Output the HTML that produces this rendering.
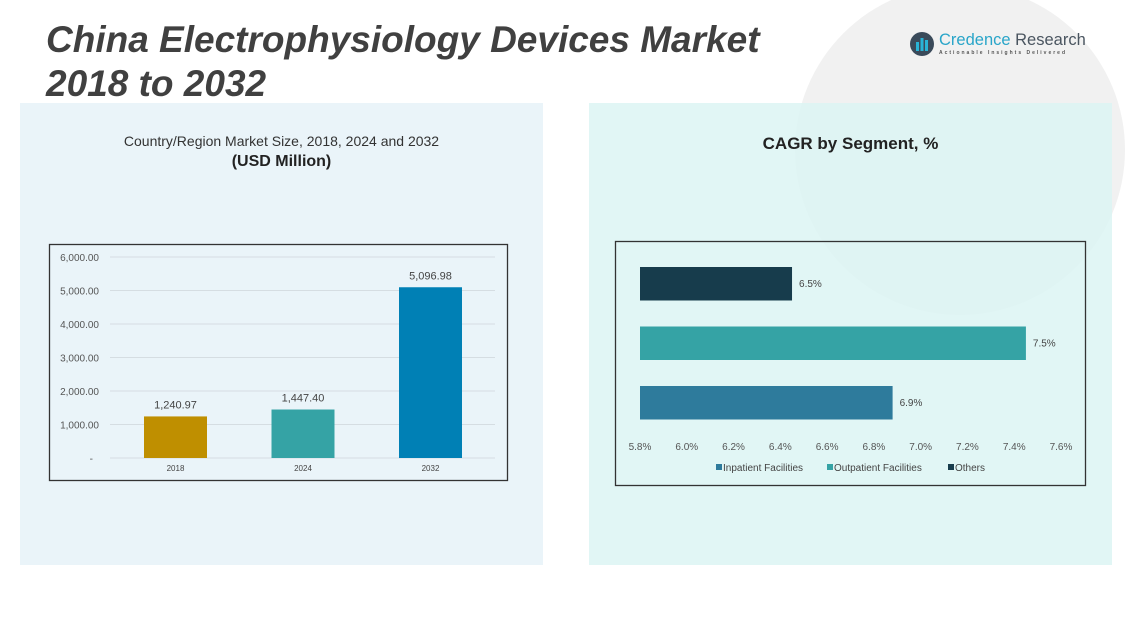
<!DOCTYPE html>
<html><head><meta charset="utf-8"><style>
body{margin:0;width:1128px;height:622px;overflow:hidden;background:#fff;font-family:"Liberation Sans",sans-serif;position:relative}
.abs{position:absolute}
</style></head><body>
<div class="abs" style="left:795px;top:-15px;width:330px;height:330px;border-radius:50%;background:#f1f1f1"></div>
<div class="abs" style="left:20px;top:103px;width:523px;height:462px;background:#eaf4f9"></div>
<div class="abs" style="left:589px;top:103px;width:523px;height:462px;background:rgba(220,244,243,0.85)"></div>
<div class="abs" style="left:46px;top:18px;font-size:37px;line-height:44px;font-weight:bold;font-style:italic;color:#404040;letter-spacing:0px">China Electrophysiology Devices Market<br>2018 to 2032</div>
<div class="abs" style="left:908px;top:30px;width:180px;height:30px">
<svg width="30" height="28" style="position:absolute;left:0;top:0"><circle cx="14" cy="14" r="12" fill="#3a4a5a"/><rect x="8" y="12" width="3" height="9" fill="#29b3d6"/><rect x="12.5" y="8" width="3" height="13" fill="#29b3d6"/><rect x="17" y="10" width="3" height="11" fill="#29b3d6"/></svg>
<div class="abs" style="left:31px;top:1px;font-size:16.5px;color:#29a5c9;white-space:nowrap">Credence <span style="color:#4a5560">Research</span></div>
<div class="abs" style="left:31px;top:20px;font-size:5px;letter-spacing:2px;color:#555;white-space:nowrap;font-weight:bold">Actionable Insights Delivered</div>
</div>
<div class="abs" style="left:20px;width:523px;top:133px;text-align:center;font-size:14px;color:#333">Country/Region Market Size, 2018, 2024 and 2032</div>
<div class="abs" style="left:20px;width:523px;top:153px;text-align:center;font-size:16px;font-weight:bold;color:#222">(USD Million)</div>
<div class="abs" style="left:589px;width:523px;top:134px;text-align:center;font-size:17px;font-weight:bold;color:#222">CAGR by Segment, %</div>

<svg class="abs" style="left:0;top:0" width="1128" height="622" id="svg"></svg>
<script>
const years=["2018","2024","2032"];
const sizes=[1240.97,1447.40,5096.98];
const sizeLabels=["1,240.97","1,447.40","5,096.98"];
const yTicks=[0,1000,2000,3000,4000,5000,6000];
const yTickLabels=["-","1,000.00","2,000.00","3,000.00","4,000.00","5,000.00","6,000.00"];
const barColors=["#bf8f00","#35a3a5","#0080b5"];
const segments=["Others","Outpatient Facilities","Inpatient Facilities"];
const cagr=[6.45,7.45,6.88];
const cagrLabels=["6.5%","7.5%","6.9%"];
const segColors=["#173c4c","#35a3a5","#2e7b9c"];
const xTicks=[5.8,6.0,6.2,6.4,6.6,6.8,7.0,7.2,7.4,7.6];
const legendNames=["Inpatient Facilities","Outpatient Facilities","Others"];
const legendColors=["#2e7b9c","#35a3a5","#173c4c"];

const svg=document.getElementById('svg');const NS="http://www.w3.org/2000/svg";
function mk(t,a,txt){const e=document.createElementNS(NS,t);for(const k in a)e.setAttribute(k,a[k]);if(txt!==undefined)e.textContent=txt;svg.appendChild(e);return e;}
let f=mk('rect',{x:49.5,y:244.5,width:458,height:236,fill:'none',stroke:'#333','stroke-width':1.3});

const y=v=>458-v*(201/6000);
yTicks.forEach((t,i)=>{
 const g=mk('line',{x1:110,x2:495,y1:y(t),y2:y(t),stroke:'#d5dde2','stroke-width':1});
 
 const l=mk('text',{x:i==0?93:99,y:y(t)+4,'text-anchor':'end','font-size':10,fill:'#555'},yTickLabels[i]);
 
});
const cx=i=>175.5+i*127.5;
years.forEach((yr,i)=>{
 const b=mk('rect',{x:cx(i)-31.5,y:y(sizes[i]),width:63,height:458-y(sizes[i]),fill:barColors[i]});
 
 const v=mk('text',{x:cx(i),y:y(sizes[i])-8,'text-anchor':'middle','font-size':11,fill:'#444'},sizeLabels[i]);
 
 const xl=mk('text',{x:cx(i),y:471,'text-anchor':'middle','font-size':8,fill:'#444'},yr);
 
});
f=mk('rect',{x:615.5,y:241.5,width:470,height:244,fill:'none',stroke:'#333','stroke-width':1.3});

const x=v=>640+(v-5.8)*(421/1.8);
const by=i=>267+i*59.5;
segments.forEach((s,i)=>{
 const b=mk('rect',{x:640,y:by(i),width:x(cagr[i])-640,height:33.5,fill:segColors[i]});
 
 const v=mk('text',{x:x(cagr[i])+7,y:by(i)+20,'font-size':10,fill:'#444'},cagrLabels[i]);
 
});
xTicks.forEach(t=>{
 const l=mk('text',{x:x(t),y:450,'text-anchor':'middle','font-size':10,fill:'#555'},t.toFixed(1)+'%');
 
});
let lx=716;
legendNames.forEach((n,i)=>{
 const r=mk('rect',{x:lx,y:464,width:6,height:6,fill:legendColors[i]});
 
 const t=mk('text',{x:lx+7,y:471,'font-size':10,fill:'#444'},n);
 
 lx+=[111,121,0][i];
});
</script>
</body></html>
